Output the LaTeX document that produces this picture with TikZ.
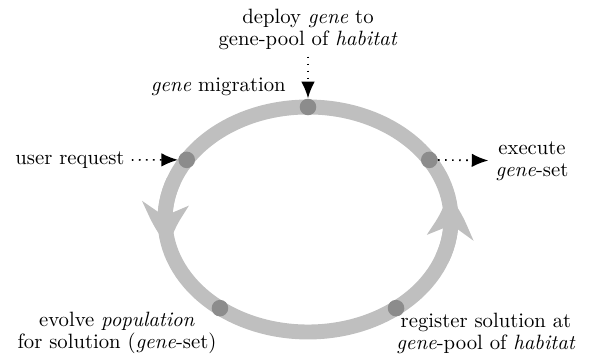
\documentclass[tikz,border=0pt]{standalone}
\usepackage{amsmath}
\usepackage{tikz}
\usetikzlibrary{arrows.meta,bending}
\definecolor{ringgray}{gray}{0.75}
\definecolor{dotgray}{gray}{0.55}

\begin{document}
\begin{tikzpicture}[x=0.483pt,y=0.483pt,
	ring/.style={line width=7.2pt,ringgray},
	ringhead/.style={ring,-{Stealth[length=21pt,width=22pt,inset=6pt,bend]}},
	stop/.style={circle,fill=dotgray,minimum size=8pt,inner sep=0pt},
	feed/.style={line width=0.8pt,dash pattern=on 0.8pt off 2.6pt,-{Latex[length=8pt,width=6.5pt]}},
	txt/.style={align=center,font=\fontsize{10}{10.6}\selectfont}]
	\useasboundingbox (0,0) rectangle (595,354);
	\coordinate (C) at (308,134.5);
	
	%cycle
	\draw[ring] (C) ellipse [x radius=143, y radius=112.5];
	\draw[ringhead] (C) ++(160:143 and 112.5) arc[start angle=160,end angle=194,x radius=143,y radius=112.5];	%left head
	\draw[ringhead] (C) ++(340:143 and 112.5) arc[start angle=340,end angle=373,x radius=143,y radius=112.5];	%right head
	
	%stops
	\path (C) ++(90:143 and 112.5)  node[stop] (ptop) {};
	\path (C) ++(148:143 and 112.5) node[stop] (pleft) {};
	\path (C) ++(32:143 and 112.5)  node[stop] (pright) {};
	\path (C) ++(232:143 and 112.5) node[stop] (pevolve) {};
	\path (C) ++(308:143 and 112.5) node[stop] (pregist) {};
	
	%texts
	\node[txt] (deploy) at (308,325) {deploy \emph{gene} to\\gene-pool of \emph{habitat}};
	\node[txt,anchor=base east] (migr) at (293,262) {\emph{gene} migration};
	\node[txt] (ureq) at (70,194) {user request};
	\node[txt] (exec) at (532,193) {execute\\\emph{gene}-set};
	\node[txt] (evolve) at (117,21) {evolve \emph{population}\\for solution (\emph{gene}-set)};
	\node[txt] (regist) at (486,21) {register solution at\\\emph{gene}-pool of \emph{habitat}};
	
	%arrows
	\draw[feed] (deploy) -- (ptop);		%deploy--top
	\draw[feed] (ureq) -- (pleft);		%request--left
	\draw[feed] (pright) -- (exec);		%right--execute
\end{tikzpicture}
\end{document}
